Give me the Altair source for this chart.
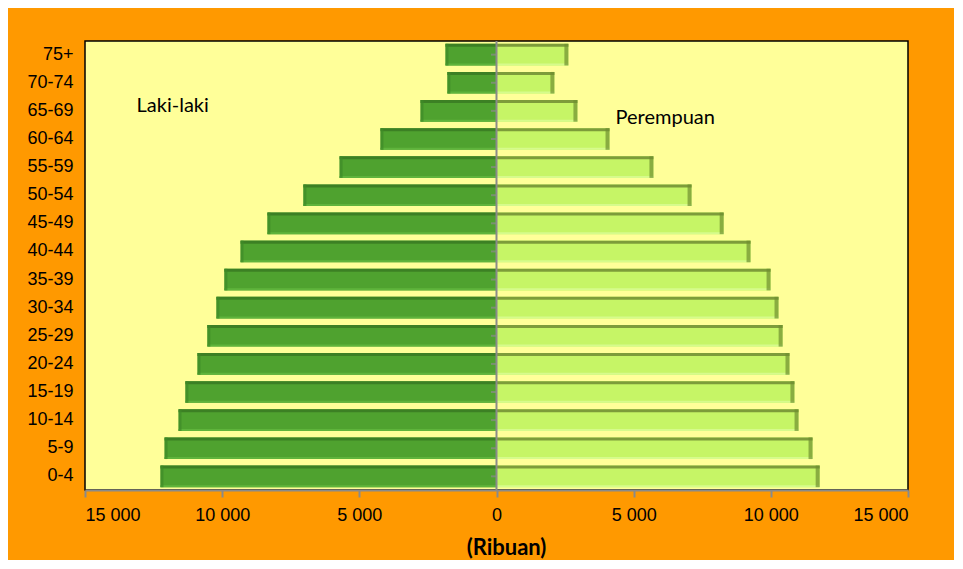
import altair as alt
import pandas as pd

groups = ["75+", "70-74", "65-69", "60-64", "55-59", "50-54", "45-49", "40-44",
          "35-39", "30-34", "25-29", "20-24", "15-19", "10-14", "5-9", "0-4"]
male = [1860, 1790, 2770, 4230, 5720, 7040, 8350, 9330,
        9920, 10210, 10540, 10900, 11340, 11590, 12100, 12250]
female = [2620, 2110, 2950, 4120, 5720, 7110, 8280, 9260,
          9990, 10280, 10430, 10680, 10860, 11010, 11520, 11780]
x_ticks = [-15000, -10000, -5000, 0, 5000, 10000, 15000]

ann_text = ["Laki-laki", "Perempuan"]
ann_x = [-13120, 4340]
ann_group = ["65-69", "65-69"]
ann_dy = [-5, 7]

rows = []
for g, m, f in zip(groups, male, female):
    rows.append({"group": g, "sex": "Laki-laki", "value": -m})
    rows.append({"group": g, "sex": "Perempuan", "value": f})
df = pd.DataFrame(rows)
dm = df[df.sex == "Laki-laki"]
dfe = df[df.sex == "Perempuan"]

W, H = 823, 449
BAR = 21.6

xscale = alt.Scale(domain=[-15000, 15000], nice=False)
yscale = alt.Scale(domain=groups, paddingInner=0.23, paddingOuter=0.1)

x_enc = alt.X("value:Q", scale=xscale,
              axis=alt.Axis(values=x_ticks, grid=False, title="(Ribuan)",
                            labelExpr="replace(format(abs(datum.value), ','), ',', ' ')",
                            labelFont="Liberation Sans", labelFontSize=18, labelColor="#000",
                            labelPadding=9, tickSize=7, tickWidth=2, tickColor="#8a8a8a",
                            domainColor="#8a8a8a", domainWidth=2,
                            titleFont="Lato", titleFontSize=22, titleFontWeight="bold",
                            titleColor="#000", titleX=421, titleY=57, titleBaseline="middle"))
y_enc = alt.Y("group:N", scale=yscale, sort=groups,
              axis=alt.Axis(title=None, ticks=False, domain=False, labelPadding=12,
                            labelFont="Liberation Sans", labelFontSize=18, labelColor="#000"))

def bars(data, fill):
    return alt.Chart(data).mark_bar(color=fill).encode(x=x_enc, y=y_enc, x2=alt.datum(0))

def strip(data, color, off, h):
    return alt.Chart(data).mark_bar(color=color, height=h, yOffset=off).encode(
        x=x_enc, y=y_enc, x2=alt.datum(0))

male_main = bars(dm, "#4fa22f")
male_top = strip(dm, "#3c8024", -BAR / 2 + 1.5, 3)
male_bot = strip(dm, "#5fb43c", BAR / 2 - 1, 2)
male_cap = alt.Chart(dm).mark_tick(color="#3f8a28", thickness=3, size=BAR, xOffset=1.5).encode(
    x=x_enc, y=y_enc)

fem_main = bars(dfe, "#c6f566")
fem_top = strip(dfe, "#7d9c3a", -BAR / 2 + 1.5, 3)
fem_bot = strip(dfe, "#d6fb8c", BAR / 2 - 1, 2)
fem_cap = alt.Chart(dfe).mark_tick(color="#6f8f30", thickness=4, size=BAR, xOffset=-2).encode(
    x=x_enc, y=y_enc)

zero_rule = alt.Chart(pd.DataFrame({"z": [0]})).mark_rule(color="#8a8a8a", strokeWidth=2).encode(
    x=alt.X("z:Q", scale=xscale))
ytick_df = pd.DataFrame({"group": groups, "value": [0] * len(groups)})
y_ticks = alt.Chart(ytick_df).mark_tick(orient="horizontal", color="#8a8a8a", thickness=2,
                                        size=5, xOffset=-3).encode(x=x_enc, y=y_enc)

ann_df = pd.DataFrame({"text": ann_text, "value": ann_x, "group": ann_group, "dy": ann_dy})
ann = alt.layer(*[
    alt.Chart(ann_df.iloc[[i]]).mark_text(align="left", baseline="middle", font="Lato",
                                          fontSize=20, color="#000", dy=ann_dy[i]).encode(
        x=x_enc, y=y_enc, text="text:N")
    for i in range(len(ann_text))
])

chart = alt.layer(
    male_main, male_top, male_bot, male_cap,
    fem_main, fem_top, fem_bot, fem_cap,
    zero_rule, y_ticks, ann
).properties(
    width=W, height=H, background="#ff9900",
    padding={"left": 77, "top": 33, "right": 46, "bottom": 70},
    autosize=alt.AutoSizeParams(type="none")
).configure_view(
    fill="#ffff99", stroke="#000000", strokeWidth=1.5
)

chart.save("out.html", embed_options={"renderer": "svg", "actions": False})
